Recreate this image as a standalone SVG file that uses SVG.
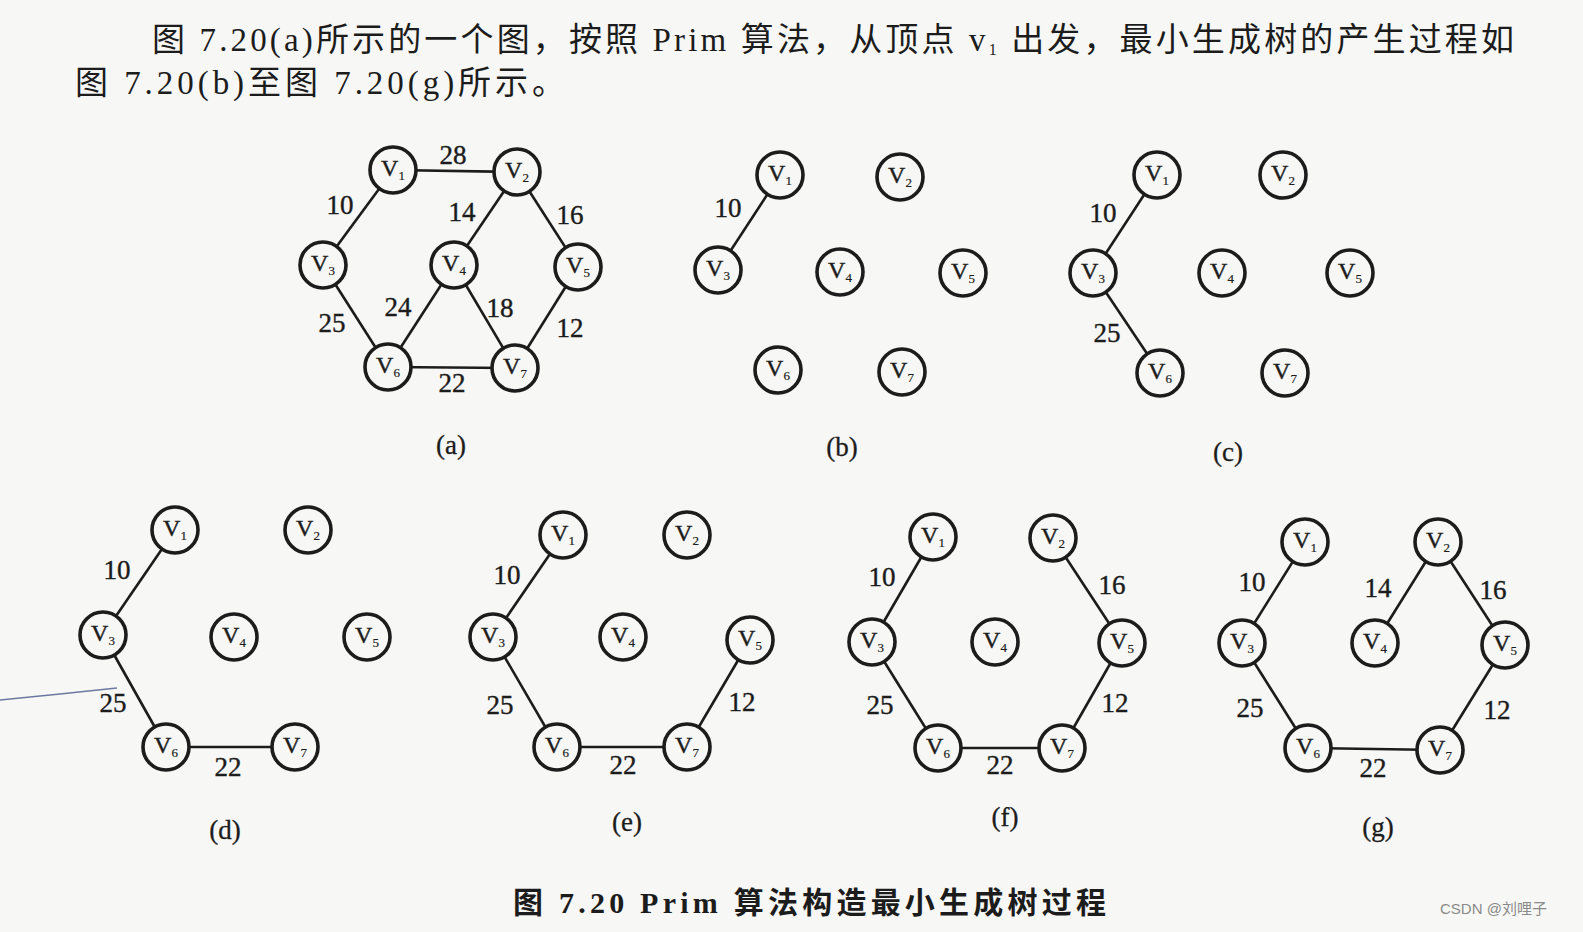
<svg xmlns="http://www.w3.org/2000/svg" width="1583" height="932" viewBox="0 0 1583 932">
<style>
.bg{fill:#f7f7f5}
.e line{stroke:#1c1c1c;stroke-width:2.6}
.e text{font-family:"Liberation Serif","DejaVu Serif",serif;font-size:27px;fill:#1c1c1c;stroke:#1c1c1c;stroke-width:0.4;text-anchor:middle}
.n circle{fill:#f7f7f5;stroke:#1c1c1c;stroke-width:3.6}
.n text{font-family:"Liberation Serif","DejaVu Serif",serif;font-size:24px;fill:#1c1c1c;stroke:#1c1c1c;stroke-width:0.4;text-anchor:middle}
.n tspan{font-size:13px;stroke-width:0.2}
.n text.w{font-size:27px;stroke-width:0.3}
.cap{font-family:"Liberation Serif","Noto Sans CJK SC",serif;fill:#1c1c1c}
</style>
<rect class="bg" x="0" y="0" width="1583" height="932"/>

<g id="header">
<text class="cap" x="152" y="51" font-size="33" textLength="1362" lengthAdjust="spacing">图 7.20(a)所示的一个图，按照 Prim 算法，从顶点 v<tspan font-size="16" dy="4">1</tspan><tspan dy="-4"> 出发，最小生成树的产生过程如</tspan></text>
<text class="cap" x="75" y="94" font-size="33" textLength="490" lengthAdjust="spacing">图 7.20(b)至图 7.20(g)所示。</text>
</g>

<path d="M0,700 L60,694 L117,688" fill="none" stroke="#4a5a8a" stroke-width="1.5" opacity="0.8"/>

<g id="connectors" class="e">
<!-- (a) -->
<line x1="393" y1="170" x2="517" y2="172"/><text x="453" y="164">28</text>
<line x1="393" y1="170" x2="323" y2="265"/><text x="340" y="214">10</text>
<line x1="517" y1="172" x2="454" y2="265"/><text x="462" y="221">14</text>
<line x1="517" y1="172" x2="578" y2="267"/><text x="570" y="224">16</text>
<line x1="323" y1="265" x2="388" y2="367"/><text x="332" y="332">25</text>
<line x1="454" y1="265" x2="388" y2="367"/><text x="398" y="316">24</text>
<line x1="454" y1="265" x2="515" y2="368"/><text x="500" y="317">18</text>
<line x1="578" y1="267" x2="515" y2="368"/><text x="570" y="337">12</text>
<line x1="388" y1="367" x2="515" y2="368"/><text x="452" y="392">22</text>
<!-- (b) -->
<line x1="780" y1="175" x2="718" y2="270"/><text x="728" y="217">10</text>
<!-- (c) -->
<line x1="1157" y1="175" x2="1093" y2="273"/><text x="1103" y="222">10</text>
<line x1="1093" y1="273" x2="1160" y2="373"/><text x="1107" y="342">25</text>
<!-- (d) -->
<line x1="175" y1="530" x2="103" y2="635"/><text x="117" y="579">10</text>
<line x1="103" y1="635" x2="166" y2="747"/><text x="113" y="712">25</text>
<line x1="166" y1="747" x2="295" y2="747"/><text x="228" y="776">22</text>
<!-- (e) -->
<line x1="563" y1="535" x2="493" y2="637"/><text x="507" y="584">10</text>
<line x1="493" y1="637" x2="557" y2="747"/><text x="500" y="714">25</text>
<line x1="557" y1="747" x2="687" y2="747"/><text x="623" y="774">22</text>
<line x1="687" y1="747" x2="750" y2="640"/><text x="742" y="711">12</text>
<!-- (f) -->
<line x1="933" y1="537" x2="872" y2="642"/><text x="882" y="586">10</text>
<line x1="872" y1="642" x2="938" y2="748"/><text x="880" y="714">25</text>
<line x1="938" y1="748" x2="1062" y2="748"/><text x="1000" y="774">22</text>
<line x1="1062" y1="748" x2="1122" y2="643"/><text x="1115" y="712">12</text>
<line x1="1122" y1="643" x2="1053" y2="538"/><text x="1112" y="594">16</text>
<!-- (g) -->
<line x1="1305" y1="542" x2="1242" y2="643"/><text x="1252" y="591">10</text>
<line x1="1242" y1="643" x2="1308" y2="748"/><text x="1250" y="717">25</text>
<line x1="1308" y1="748" x2="1440" y2="750"/><text x="1373" y="777">22</text>
<line x1="1440" y1="750" x2="1505" y2="645"/><text x="1497" y="719">12</text>
<line x1="1505" y1="645" x2="1438" y2="542"/><text x="1493" y="599">16</text>
<line x1="1438" y1="542" x2="1375" y2="643"/><text x="1378" y="597">14</text>
</g>

<g id="graph-a" class="n">
<g id="a-v1"><circle cx="393" cy="170" r="23"/><text x="393" y="176">V<tspan dy="4">1</tspan></text></g>
<g id="a-v2"><circle cx="517" cy="172" r="23"/><text x="517" y="178">V<tspan dy="4">2</tspan></text></g>
<g id="a-v3"><circle cx="323" cy="265" r="23"/><text x="323" y="271">V<tspan dy="4">3</tspan></text></g>
<g id="a-v4"><circle cx="454" cy="265" r="23"/><text x="454" y="271">V<tspan dy="4">4</tspan></text></g>
<g id="a-v5"><circle cx="578" cy="267" r="23"/><text x="578" y="273">V<tspan dy="4">5</tspan></text></g>
<g id="a-v6"><circle cx="388" cy="367" r="23"/><text x="388" y="373">V<tspan dy="4">6</tspan></text></g>
<g id="a-v7"><circle cx="515" cy="368" r="23"/><text x="515" y="374">V<tspan dy="4">7</tspan></text></g>
<text class="w" x="451" y="454">(a)</text>
</g>

<g id="graph-b" class="n">
<g id="b-v1"><circle cx="780" cy="175" r="23"/><text x="780" y="181">V<tspan dy="4">1</tspan></text></g>
<g id="b-v2"><circle cx="900" cy="177" r="23"/><text x="900" y="183">V<tspan dy="4">2</tspan></text></g>
<g id="b-v3"><circle cx="718" cy="270" r="23"/><text x="718" y="276">V<tspan dy="4">3</tspan></text></g>
<g id="b-v4"><circle cx="840" cy="272" r="23"/><text x="840" y="278">V<tspan dy="4">4</tspan></text></g>
<g id="b-v5"><circle cx="963" cy="273" r="23"/><text x="963" y="279">V<tspan dy="4">5</tspan></text></g>
<g id="b-v6"><circle cx="778" cy="370" r="23"/><text x="778" y="376">V<tspan dy="4">6</tspan></text></g>
<g id="b-v7"><circle cx="902" cy="372" r="23"/><text x="902" y="378">V<tspan dy="4">7</tspan></text></g>
<text class="w" x="842" y="456">(b)</text>
</g>

<g id="graph-c" class="n">
<g id="c-v1"><circle cx="1157" cy="175" r="23"/><text x="1157" y="181">V<tspan dy="4">1</tspan></text></g>
<g id="c-v2"><circle cx="1283" cy="175" r="23"/><text x="1283" y="181">V<tspan dy="4">2</tspan></text></g>
<g id="c-v3"><circle cx="1093" cy="273" r="23"/><text x="1093" y="279">V<tspan dy="4">3</tspan></text></g>
<g id="c-v4"><circle cx="1222" cy="273" r="23"/><text x="1222" y="279">V<tspan dy="4">4</tspan></text></g>
<g id="c-v5"><circle cx="1350" cy="273" r="23"/><text x="1350" y="279">V<tspan dy="4">5</tspan></text></g>
<g id="c-v6"><circle cx="1160" cy="373" r="23"/><text x="1160" y="379">V<tspan dy="4">6</tspan></text></g>
<g id="c-v7"><circle cx="1285" cy="373" r="23"/><text x="1285" y="379">V<tspan dy="4">7</tspan></text></g>
<text class="w" x="1228" y="461">(c)</text>
</g>

<g id="graph-d" class="n">
<g id="d-v1"><circle cx="175" cy="530" r="23"/><text x="175" y="536">V<tspan dy="4">1</tspan></text></g>
<g id="d-v2"><circle cx="308" cy="530" r="23"/><text x="308" y="536">V<tspan dy="4">2</tspan></text></g>
<g id="d-v3"><circle cx="103" cy="635" r="23"/><text x="103" y="641">V<tspan dy="4">3</tspan></text></g>
<g id="d-v4"><circle cx="234" cy="637" r="23"/><text x="234" y="643">V<tspan dy="4">4</tspan></text></g>
<g id="d-v5"><circle cx="367" cy="637" r="23"/><text x="367" y="643">V<tspan dy="4">5</tspan></text></g>
<g id="d-v6"><circle cx="166" cy="747" r="23"/><text x="166" y="753">V<tspan dy="4">6</tspan></text></g>
<g id="d-v7"><circle cx="295" cy="747" r="23"/><text x="295" y="753">V<tspan dy="4">7</tspan></text></g>
<text class="w" x="225" y="839">(d)</text>
</g>

<g id="graph-e" class="n">
<g id="e-v1"><circle cx="563" cy="535" r="23"/><text x="563" y="541">V<tspan dy="4">1</tspan></text></g>
<g id="e-v2"><circle cx="687" cy="535" r="23"/><text x="687" y="541">V<tspan dy="4">2</tspan></text></g>
<g id="e-v3"><circle cx="493" cy="637" r="23"/><text x="493" y="643">V<tspan dy="4">3</tspan></text></g>
<g id="e-v4"><circle cx="623" cy="637" r="23"/><text x="623" y="643">V<tspan dy="4">4</tspan></text></g>
<g id="e-v5"><circle cx="750" cy="640" r="23"/><text x="750" y="646">V<tspan dy="4">5</tspan></text></g>
<g id="e-v6"><circle cx="557" cy="747" r="23"/><text x="557" y="753">V<tspan dy="4">6</tspan></text></g>
<g id="e-v7"><circle cx="687" cy="747" r="23"/><text x="687" y="753">V<tspan dy="4">7</tspan></text></g>
<text class="w" x="627" y="831">(e)</text>
</g>

<g id="graph-f" class="n">
<g id="f-v1"><circle cx="933" cy="537" r="23"/><text x="933" y="543">V<tspan dy="4">1</tspan></text></g>
<g id="f-v2"><circle cx="1053" cy="538" r="23"/><text x="1053" y="544">V<tspan dy="4">2</tspan></text></g>
<g id="f-v3"><circle cx="872" cy="642" r="23"/><text x="872" y="648">V<tspan dy="4">3</tspan></text></g>
<g id="f-v4"><circle cx="995" cy="642" r="23"/><text x="995" y="648">V<tspan dy="4">4</tspan></text></g>
<g id="f-v5"><circle cx="1122" cy="643" r="23"/><text x="1122" y="649">V<tspan dy="4">5</tspan></text></g>
<g id="f-v6"><circle cx="938" cy="748" r="23"/><text x="938" y="754">V<tspan dy="4">6</tspan></text></g>
<g id="f-v7"><circle cx="1062" cy="748" r="23"/><text x="1062" y="754">V<tspan dy="4">7</tspan></text></g>
<text class="w" x="1005" y="826">(f)</text>
</g>

<g id="graph-g" class="n">
<g id="g-v1"><circle cx="1305" cy="542" r="23"/><text x="1305" y="548">V<tspan dy="4">1</tspan></text></g>
<g id="g-v2"><circle cx="1438" cy="542" r="23"/><text x="1438" y="548">V<tspan dy="4">2</tspan></text></g>
<g id="g-v3"><circle cx="1242" cy="643" r="23"/><text x="1242" y="649">V<tspan dy="4">3</tspan></text></g>
<g id="g-v4"><circle cx="1375" cy="643" r="23"/><text x="1375" y="649">V<tspan dy="4">4</tspan></text></g>
<g id="g-v5"><circle cx="1505" cy="645" r="23"/><text x="1505" y="651">V<tspan dy="4">5</tspan></text></g>
<g id="g-v6"><circle cx="1308" cy="748" r="23"/><text x="1308" y="754">V<tspan dy="4">6</tspan></text></g>
<g id="g-v7"><circle cx="1440" cy="750" r="23"/><text x="1440" y="756">V<tspan dy="4">7</tspan></text></g>
<text class="w" x="1378" y="836">(g)</text>
</g>

<g id="caption">
<text class="cap" x="513" y="913" font-size="30" font-weight="bold" textLength="593" lengthAdjust="spacing">图 7.20  Prim 算法构造最小生成树过程</text>
</g>
<text x="1440" y="914" font-family="'Liberation Sans','Noto Sans CJK SC',sans-serif" font-size="15" fill="#8a8a8a">CSDN @刘哩子</text>
</svg>
